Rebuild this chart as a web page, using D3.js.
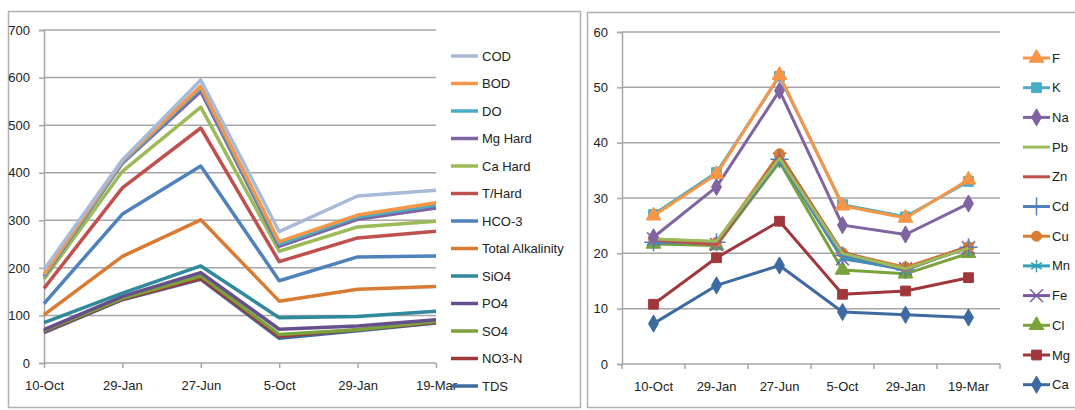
<!DOCTYPE html>
<html>
<head>
<meta charset="utf-8">
<script src="https://cdn.jsdelivr.net/npm/d3@7"></script>
<style>
  body { margin: 0; background: #fff; }
  svg text { font-family: "Liberation Sans Narrow", "Liberation Sans", Arial, sans-serif; fill: #222; }
</style>
</head>
<body>
<svg id="chart" width="1075" height="410"></svg>
<script>
// dates on both x axes
var dates = ['10-Oct', '29-Jan', '27-Jun', '5-Oct', '29-Jan', '19-Mar'];

// left chart, legend order (top to bottom)
var leftNames = ['COD', 'BOD', 'DO', 'Mg Hard', 'Ca Hard', 'T/Hard', 'HCO-3', 'Total Alkalinity', 'SiO4', 'PO4', 'SO4', 'NO3-N', 'TDS'];
var leftColors = ['#A7BADA', '#F79646', '#4BACC6', '#8064A2', '#9BBB59', '#C0504D', '#4F81BD', '#DA7B34', '#31899C', '#664F8C', '#79A23A', '#A0373A', '#3D6AA0'];
var leftValues = [
  [196, 427, 595, 276, 351, 363],
  [186, 425, 582, 255, 311, 337],
  [184, 422, 578, 250, 307, 332],
  [182, 420, 571, 245, 302, 326],
  [176, 403, 538, 235, 286, 298],
  [157, 368, 494, 213, 263, 277],
  [125, 313, 414, 173, 223, 225],
  [101, 224, 301, 130, 155, 161],
  [85, 147, 204, 95, 98, 109],
  [70, 140, 190, 71, 78, 91],
  [68, 136, 183, 60, 70, 87],
  [66, 134, 178, 56, 70, 85],
  [64, 133, 176, 52, 68, 84]
];
var leftTicks = [0, 100, 200, 300, 400, 500, 600, 700];

// right chart, legend order (top to bottom)
var rightNames = ['F', 'K', 'Na', 'Pb', 'Zn', 'Cd', 'Cu', 'Mn', 'Fe', 'Cl', 'Mg', 'Ca'];
var rightColors = ['#F79646', '#4BACC6', '#8064A2', '#9BBB59', '#C0504D', '#4F81BD', '#DA7B34', '#31A0B4', '#7A5A9C', '#79A23A', '#A0373A', '#3D6AA0'];
var rightMarkers = ['triangle', 'square', 'diamond', 'none', 'none', 'plus', 'circle', 'asterisk', 'times', 'triangle', 'square', 'diamond'];
var rightValues = [
  [26.8, 34.3, 52.2, 28.6, 26.4, 33.3],
  [27.0, 34.6, 52.0, 28.8, 26.6, 33.0],
  [22.9, 32.0, 49.4, 25.1, 23.4, 29.0],
  [22.6, 22.2, 37.2, 20.0, 17.2, 21.0],
  [22.4, 21.6, 37.6, 20.2, 17.1, 21.2],
  [22.0, 22.0, 37.0, 19.6, 17.0, 21.1],
  [22.6, 22.0, 38.0, 20.1, 17.5, 21.2],
  [22.0, 21.8, 37.0, 19.2, 17.0, 21.3],
  [22.6, 21.6, 37.0, 19.0, 17.2, 21.0],
  [21.7, 21.4, 36.5, 17.0, 16.3, 20.0],
  [10.8, 19.2, 25.8, 12.6, 13.2, 15.6],
  [7.3, 14.2, 17.8, 9.4, 8.9, 8.4]
];
var rightTicks = [0, 10, 20, 30, 40, 50, 60];

var svg = d3.select('#chart');
var gridColor = '#A6A6A6';
var fontSize = '13px';

// panel frames
svg.append('rect').attr('x', 8.5).attr('y', 11.5).attr('width', 572).attr('height', 396)
  .attr('fill', 'none').attr('stroke', '#B0B0B0').attr('stroke-width', 1.5);
svg.append('rect').attr('x', 587.5).attr('y', 12.5).attr('width', 500).attr('height', 395)
  .attr('fill', 'none').attr('stroke', '#B0B0B0').attr('stroke-width', 1.5);

/// LEFT CHART
var lx = d3.scalePoint().domain(d3.range(dates.length)).range([44, 436]).padding(0);
var ly = d3.scaleLinear().domain([0, 700]).range([363, 30]);

var left = svg.append('g');

left.append('g').selectAll('line')
  .data(leftTicks.slice(1))
  .enter().append('line')
  .attr('x1', 44).attr('x2', 436)
  .attr('y1', d => ly(d)).attr('y2', d => ly(d))
  .attr('stroke', gridColor).attr('stroke-width', 1.5);

left.append('g')
  .attr('transform', 'translate(44,0)')
  .call(d3.axisLeft(ly).tickValues(leftTicks).tickSize(5).tickPadding(9))
  .call(g => g.selectAll('path, line').attr('stroke', gridColor).attr('stroke-width', 1.5))
  .call(g => g.selectAll('text').style('font-size', fontSize));

left.append('g')
  .attr('transform', 'translate(0,363)')
  .call(d3.axisBottom(lx).tickSize(5).tickPadding(13).tickFormat(i => dates[i]))
  .call(g => g.selectAll('path, line').attr('stroke', gridColor).attr('stroke-width', 1.5))
  .call(g => g.select('.domain').attr('d', 'M44,0H436'))
  .call(g => g.selectAll('text').style('font-size', fontSize));

var leftLine = d3.line().x((d, i) => lx(i)).y(d => ly(d));

// excel draws the last legend entry first
d3.range(leftNames.length).reverse().forEach(k => {
  left.append('path')
    .datum(leftValues[k])
    .attr('d', leftLine)
    .attr('fill', 'none')
    .attr('stroke', leftColors[k])
    .attr('stroke-width', 3.5)
    .attr('stroke-linejoin', 'round');
});

var leftLegend = left.append('g').selectAll('g')
  .data(leftNames)
  .enter().append('g')
  .attr('transform', (d, i) => 'translate(451,' + (56 + i * 27.5) + ')');

leftLegend.append('line')
  .attr('x1', 0).attr('x2', 27)
  .attr('stroke', (d, i) => leftColors[i])
  .attr('stroke-width', 3.5);

leftLegend.append('text')
  .attr('x', 31).attr('dy', '0.35em')
  .style('font-size', fontSize)
  .text(d => d);

/// RIGHT CHART
var rx = d3.scaleBand().domain(d3.range(dates.length)).range([622, 1000]);
var ry = d3.scaleLinear().domain([0, 60]).range([364, 32]);

var right = svg.append('g');

right.append('g').selectAll('line')
  .data(rightTicks.slice(1))
  .enter().append('line')
  .attr('x1', 622).attr('x2', 1000)
  .attr('y1', d => ry(d)).attr('y2', d => ry(d))
  .attr('stroke', gridColor).attr('stroke-width', 1.5);

right.append('g')
  .attr('transform', 'translate(622,0)')
  .call(d3.axisLeft(ry).tickValues(rightTicks).tickSize(5).tickPadding(9))
  .call(g => g.selectAll('path, line').attr('stroke', gridColor).attr('stroke-width', 1.5))
  .call(g => g.selectAll('text').style('font-size', fontSize));

var xAxisR = right.append('g')
  .attr('transform', 'translate(0,364)')
  .call(d3.axisBottom(rx).tickSize(0).tickPadding(18).tickFormat(i => dates[i]))
  .call(g => g.select('.domain').attr('d', 'M622,0H1000').attr('stroke', gridColor).attr('stroke-width', 1.5))
  .call(g => g.selectAll('text').style('font-size', fontSize));

// tick marks sit on the band edges
xAxisR.append('g').selectAll('line')
  .data(d3.range(dates.length + 1))
  .enter().append('line')
  .attr('x1', i => i < dates.length ? rx(i) : rx.range()[1])
  .attr('x2', i => i < dates.length ? rx(i) : rx.range()[1])
  .attr('y1', 0).attr('y2', 5)
  .attr('stroke', gridColor).attr('stroke-width', 1.5);

var cx = i => rx(i) + rx.bandwidth() / 2;
var rightLine = d3.line().x((d, i) => cx(i)).y(d => ry(d));

var symbolTypes = {
  triangle: d3.symbolTriangle,
  square: d3.symbolSquare,
  diamond: d3.symbolDiamond,
  circle: d3.symbolCircle,
  plus: d3.symbolPlus || d3.symbolCross,
  asterisk: d3.symbolAsterisk || d3.symbolStar,
  times: d3.symbolTimes || d3.symbolCross
};
var strokeMarkers = ['plus', 'asterisk', 'times'];
var markerSize = { triangle: 95, square: 95, diamond: 85, circle: 80, plus: 110, asterisk: 110, times: 110 };

function drawMarker(g, type, color, x, y) {
  if (type === 'none') return;
  var isStroke = strokeMarkers.indexOf(type) >= 0;
  g.append('path')
    .attr('transform', 'translate(' + x + ',' + y + ')')
    .attr('d', d3.symbol().type(symbolTypes[type]).size(markerSize[type])())
    .attr('fill', isStroke ? 'none' : color)
    .attr('stroke', color)
    .attr('stroke-width', isStroke ? 1.5 : 1);
}

d3.range(rightNames.length).reverse().forEach(k => {
  var g = right.append('g');
  g.append('path')
    .datum(rightValues[k])
    .attr('d', rightLine)
    .attr('fill', 'none')
    .attr('stroke', rightColors[k])
    .attr('stroke-width', 3)
    .attr('stroke-linejoin', 'round');
  rightValues[k].forEach((v, i) => drawMarker(g, rightMarkers[k], rightColors[k], cx(i), ry(v)));
});

var rightLegend = right.append('g').selectAll('g')
  .data(rightNames)
  .enter().append('g')
  .attr('transform', (d, i) => 'translate(1023,' + (58 + i * 29.7) + ')');

rightLegend.append('line')
  .attr('x1', 0).attr('x2', 27)
  .attr('stroke', (d, i) => rightColors[i])
  .attr('stroke-width', 3);

rightLegend.each(function (d, i) {
  drawMarker(d3.select(this), rightMarkers[i], rightColors[i], 13.5, 0);
});

rightLegend.append('text')
  .attr('x', 29).attr('dy', '0.35em')
  .style('font-size', fontSize)
  .text(d => d);
</script>
</body>
</html>
